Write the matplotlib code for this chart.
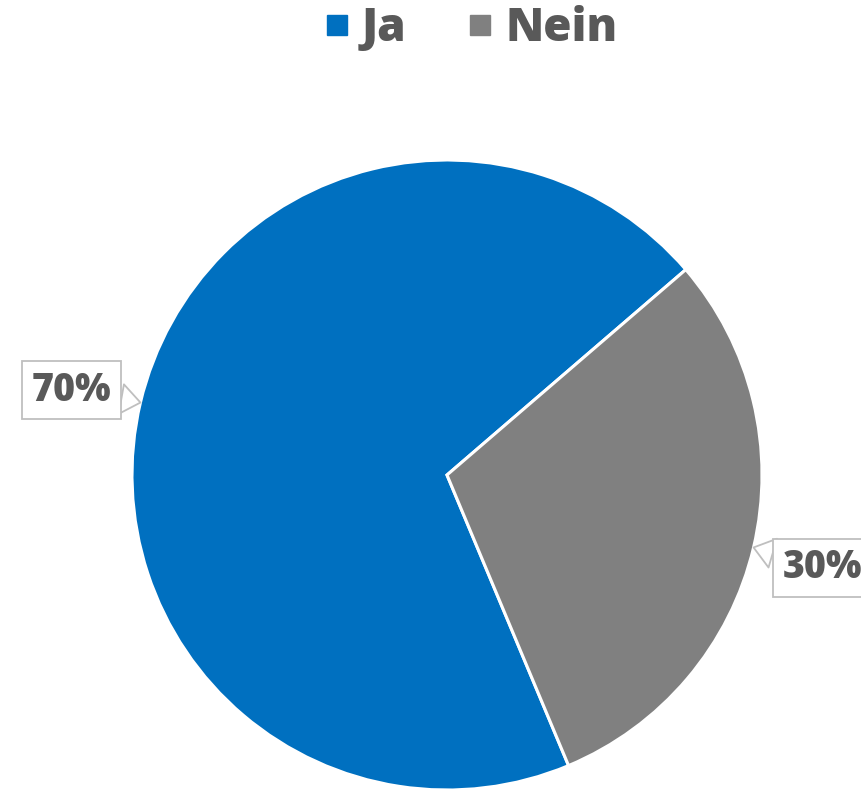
import matplotlib.pyplot as plt
import numpy as np
from matplotlib.lines import Line2D

# Chart data.
categories = ["Ja", "Nein"]
shares = [70, 30]
labels = ["70%", "30%"]
colors = ["#0070C0", "#808080"]

TEXT_COLOR = "#595959"
BOX_EDGE = "#BFBFBF"
START_ANGLE = 40.7  # degrees

plt.rcParams["font.family"] = ["Open Sans", "DejaVu Sans"]

fig = plt.figure(figsize=(8.61, 7.90), dpi=100)
ax = fig.add_axes([0, 0, 1, 1])

center = (447, 315)
radius = 315
wedges, _ = ax.pie(shares,
                   colors=colors,
                   startangle=START_ANGLE,
                   counterclock=True,
                   center=center,
                   radius=radius,
                   frame=True,
                   wedgeprops={"edgecolor": "white", "linewidth": 2.2})
ax.set_xlim(0, 861)
ax.set_ylim(0, 790)
ax.set_aspect("equal")
ax.axis("off")

# Data labels as callouts pointing at the middle of each slice.
for wedge, label in zip(wedges, labels):
    mid = np.deg2rad((wedge.theta1 + wedge.theta2) / 2)
    tip = (center[0] + radius * np.cos(mid), center[1] + radius * np.sin(mid))
    pos = (center[0] + 1.225 * radius * np.cos(mid),
           center[1] + 1.225 * radius * np.sin(mid) - 4)
    ax.annotate(label, xy=tip, xytext=pos,
                ha="center", va="center",
                fontsize=27, fontweight=800, color=TEXT_COLOR,
                bbox={"boxstyle": "square,pad=0.25", "fc": "white",
                      "ec": BOX_EDGE, "lw": 1.3},
                arrowprops={"arrowstyle": "wedge,tail_width=0.8",
                            "fc": "white", "ec": BOX_EDGE, "lw": 1.3,
                            "shrinkA": 0, "shrinkB": 0},
                annotation_clip=False)

handles = [Line2D([], [], marker="s", linestyle="none", markersize=14,
                  markerfacecolor=c, markeredgecolor=c) for c in colors]
leg = fig.legend(handles, categories,
                 loc="center",
                 bbox_to_anchor=(0.546, 1 - 29 / 790),
                 ncol=2, frameon=False,
                 handlelength=0.6, handletextpad=0.25, columnspacing=1.3,
                 prop={"size": 33, "weight": 800})
for t in leg.get_texts():
    t.set_color(TEXT_COLOR)

fig.savefig("out.png", dpi=100)
